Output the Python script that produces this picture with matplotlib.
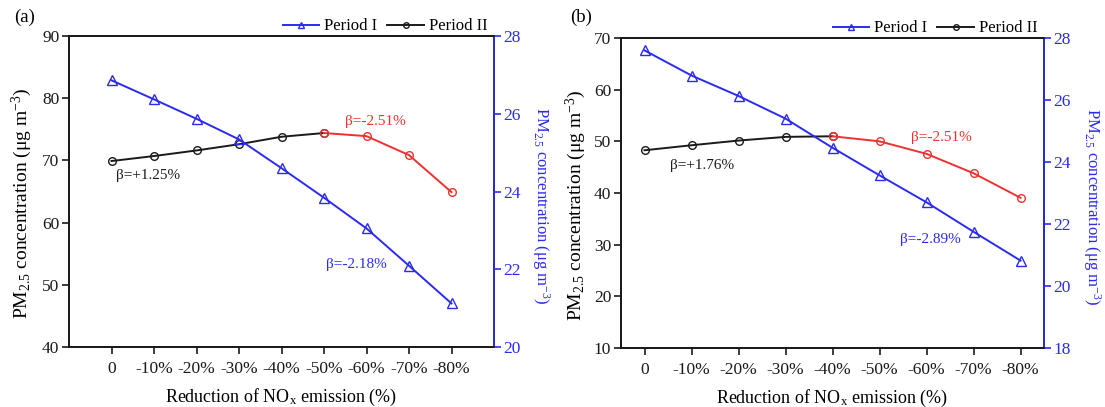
import matplotlib
matplotlib.use("Agg")
import matplotlib.pyplot as plt
from matplotlib.lines import Line2D

plt.rcParams['font.family'] = ['Liberation Serif', 'DejaVu Serif']
plt.rcParams['mathtext.fontset'] = 'custom'
plt.rcParams['mathtext.rm'] = 'Liberation Serif'
plt.rcParams['mathtext.it'] = 'Liberation Serif:italic'

categories = ['0', '-10%', '-20%', '-30%', '-40%', '-50%', '-60%', '-70%', '-80%']

# Panel (a)
a_period1 = [26.86, 26.37, 25.87, 25.34, 24.60, 23.84, 23.05, 22.09, 21.12]   # right axis
a_period2 = [69.9, 70.7, 71.6, 72.6, 73.8, 74.4, 73.9, 70.85, 64.9]           # left axis
a_split = 5
# Panel (b)
b_period1 = [27.60, 26.79, 26.13, 25.40, 24.46, 23.57, 22.70, 21.75, 20.82]
b_period2 = [48.27, 49.24, 50.15, 50.86, 50.98, 50.0, 47.58, 43.83, 39.07]
b_split = 4

BLUE = '#2b2bf0'
RED = '#f03030'
BLACK = '#1a1a1a'

fig = plt.figure(figsize=(11.05, 4.07), dpi=100)
W, H = 1105, 407
YLAB = 'PM$_{2.5}$ concentration (μg m$^{-3}$)'

def fx(px):
    return px / W

def fy(py):
    return 1 - py / H

def make_panel(rect, p1, p2, split, ylim_l, yticks_l, ylim_r, yticks_r, xlim,
               label, label_pos, ann, lylab_x, rylab_x):
    l, t, r, b = rect
    ax = fig.add_axes([l / W, 1 - b / H, (r - l) / W, (b - t) / H])
    ax2 = ax.twinx()
    x = list(range(len(categories)))
    # Period II (left axis)
    ax.plot(x[:split + 1], p2[:split + 1], color=BLACK, lw=1.4, marker='o', ms=5.5,
            mfc='none', mec=BLACK, mew=1.0, zorder=3)
    ax.plot(x[split:], p2[split:], color=RED, lw=1.4, marker='o', ms=5.5,
            mfc='none', mec=RED, mew=1.0, zorder=3)
    # Period I (right axis)
    ax2.plot(x, p1, color=BLUE, lw=1.4, marker='^', ms=6.5, mfc='none', mec=BLUE,
             mew=1.0, zorder=3)
    ax.set_xlim(*xlim)
    ax.set_ylim(*ylim_l)
    ax.set_yticks(yticks_l)
    ax2.set_ylim(*ylim_r)
    ax2.set_yticks(yticks_r)
    ax.set_xticks(x)
    ax.set_xticklabels(categories)
    for a in (ax, ax2):
        for s in a.spines.values():
            s.set_linewidth(1.2)
    ax2.spines['right'].set_color(BLUE)
    ax2.spines['left'].set_color(BLACK)
    ax2.spines['top'].set_color(BLACK)
    ax2.spines['bottom'].set_color(BLACK)
    ax.tick_params(axis='both', direction='out', length=5, width=1.2, labelsize=12.5,
                   colors=BLACK, pad=2)
    ax.tick_params(axis='x', pad=5)
    ax2.tick_params(axis='y', direction='out', length=5, width=1.2, labelsize=12.5,
                    colors=BLUE, pad=2)
    cx = (l + r) / 2
    cy = (t + b) / 2
    fig.text(fx(cx), fy(b + 50), 'Reduction of NO$_\\mathrm{x}$ emission (%)',
             fontsize=13, ha='center', va='center')
    fig.text(fx(lylab_x), fy(cy + 12), YLAB, fontsize=14, rotation=90,
             ha='center', va='center')
    fig.text(fx(rylab_x), fy(cy + 14), YLAB, fontsize=12, rotation=270, color=BLUE,
             ha='center', va='center')
    fig.text(fx(label_pos[0]), fy(label_pos[1]), label, fontsize=13.5,
             ha='left', va='center')
    for (tx, ty, txt, col) in ann:
        ax.text(tx, ty, txt, color=col, fontsize=11, ha='left', va='center', zorder=4)
    handles = [Line2D([], [], color=BLUE, lw=1.4, marker='^', ms=5, mfc='none', mec=BLUE),
               Line2D([], [], color=BLACK, lw=1.4, marker='o', ms=4, mfc='none', mec=BLACK)]
    ax.legend(handles, ['Period I', 'Period II'], loc='lower right',
              bbox_to_anchor=(0.985, 1.005), ncol=2, frameon=False, fontsize=12,
              handlelength=2.2, handletextpad=0.3, columnspacing=0.6, borderpad=0.0,
              borderaxespad=0.0)
    return ax, ax2

make_panel((69, 36, 494, 347), a_period1, a_period2, a_split,
           (40, 90), [40, 50, 60, 70, 80, 90], (20, 28), [20, 22, 24, 26, 28], (-1, 9),
           '(a)', (14, 17),
           [(0.1, 67.5, 'β=+1.25%', BLACK), (5.5, 76.2, 'β=-2.51%', RED),
            (5.05, 53.2, 'β=-2.18%', BLUE)], 22, 541)

make_panel((621, 38, 1044, 348), b_period1, b_period2, b_split,
           (10, 70), [10, 20, 30, 40, 50, 60, 70], (18, 28), [18, 20, 22, 24, 26, 28],
           (-0.5, 8.5),
           '(b)', (570, 17),
           [(0.54, 45.3, 'β=+1.76%', BLACK), (5.66, 50.7, 'β=-2.51%', RED),
            (5.44, 31.0, 'β=-2.89%', BLUE)], 576, 1092)

fig.savefig('out.png', dpi=100)
